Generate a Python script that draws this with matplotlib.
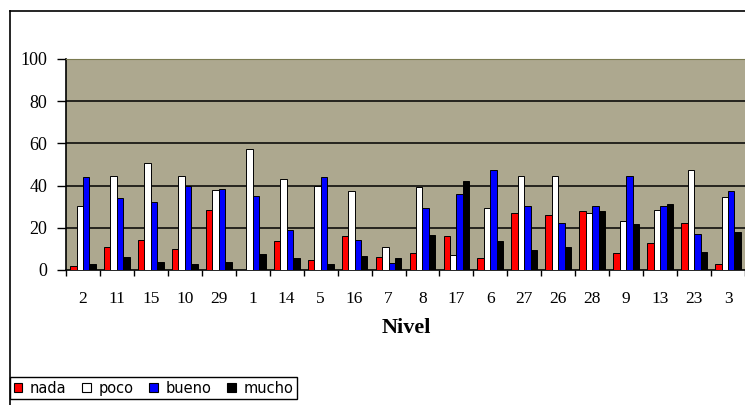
import numpy as np
import matplotlib.pyplot as plt
from matplotlib.patches import Patch
from matplotlib.lines import Line2D

# Data
niveles = ["2", "11", "15", "10", "29", "1", "14", "5", "16", "7",
           "8", "17", "6", "27", "26", "28", "9", "13", "23", "3"]
nada = [2, 10.7, 14.4, 9.8, 28.6, 0, 13.6, 4.6, 16.1, 6.3,
        8.2, 16.1, 5.5, 27, 26.1, 27.8, 8.1, 12.6, 22.4, 2.7]
poco = [30.3, 44.7, 50.9, 44.5, 38.1, 57.3, 43, 40, 37.4, 10.7,
        39.3, 7, 29.5, 44.5, 44.5, 26.9, 23.4, 28.6, 47.2, 34.8]
bueno = [43.9, 34.1, 32.2, 40, 38.4, 34.9, 19.1, 43.9, 14.4, 3.5,
         29.5, 35.9, 47.4, 30.5, 22.4, 30.5, 44.7, 30.5, 17.1, 37.4]
mucho = [2.8, 6.3, 3.9, 2.8, 3.9, 7.4, 5.5, 3, 6.5, 5.7,
         16.4, 42.2, 13.7, 9.3, 11.1, 28, 21.8, 31.4, 8.4, 18.2]

series = [("nada", nada, "#FF0000"), ("poco", poco, "#FFFFFF"),
          ("bueno", bueno, "#0000FF"), ("mucho", mucho, "#000000")]

BG = "#ADA88F"
BAR_W = 0.19

fig = plt.figure(figsize=(7.45, 4.05), dpi=100)
ax = fig.add_axes([66 / 745, 1 - 270 / 405, 1 - 66 / 745, (270 - 59) / 405])
ax.set_facecolor(BG)

x = np.arange(len(niveles))
for i, (name, vals, col) in enumerate(series):
    ax.bar(x + (i - 1.5) * BAR_W, vals, BAR_W, color=col,
           edgecolor="black", linewidth=0.7, zorder=3)

ax.set_xlim(-0.5, len(niveles) - 0.5)
ax.set_ylim(0, 100)

# gridlines
for yv in [20, 40, 60, 80]:
    ax.axhline(yv, color="black", linewidth=1.1, zorder=1)

ax.set_yticks([0, 20, 40, 60, 80, 100])
ax.tick_params(axis="y", direction="out", length=6.5, width=1, pad=7,
               labelsize=13)
for lab in ax.get_yticklabels():
    lab.set_fontfamily("Liberation Serif")

# ticks between categories, labels at centres
ax.set_xticks(np.arange(len(niveles) + 1) - 0.5)
ax.set_xticklabels([])
ax.tick_params(axis="x", which="major", direction="out", length=4, width=1)
ax.set_xticks(x, minor=True)
ax.set_xticklabels(niveles, minor=True, fontfamily="Liberation Serif",
                   fontsize=12.5)
ax.tick_params(axis="x", which="minor", length=0, pad=15)

ax.spines["top"].set_color("#7A7A50")
ax.spines["right"].set_visible(False)
ax.spines["left"].set_linewidth(1.2)
ax.spines["bottom"].set_linewidth(1.2)

fig.text(406 / 745, 1 - 328 / 405, "Nivel", ha="center", va="center",
         fontfamily="Liberation Serif", fontweight="bold", fontsize=16)

# outer chart frame (cut off at right and bottom)
x0 = 9.5 / 745
y0 = 1 - 10.5 / 405
fig.add_artist(Line2D([x0, x0], [0, y0], color="black", linewidth=1.2,
                      transform=fig.transFigure))
fig.add_artist(Line2D([x0, 1], [y0, y0], color="black", linewidth=1.2,
                      transform=fig.transFigure))

handles = [Patch(facecolor=c, edgecolor="black", linewidth=0.8)
           for _, _, c in series]
leg = fig.legend(handles, [s[0] for s in series], ncol=4,
                 loc="upper left", bbox_to_anchor=(10 / 745, 1 - 377 / 405),
                 frameon=True, fancybox=False, framealpha=1,
                 edgecolor="black", fontsize=10.5, handlelength=0.6,
                 handleheight=0.6, handletextpad=0.5, columnspacing=1.1,
                 borderpad=0.25, borderaxespad=0)
leg.get_frame().set_linewidth(1.0)

fig.savefig("out.png", dpi=100)
